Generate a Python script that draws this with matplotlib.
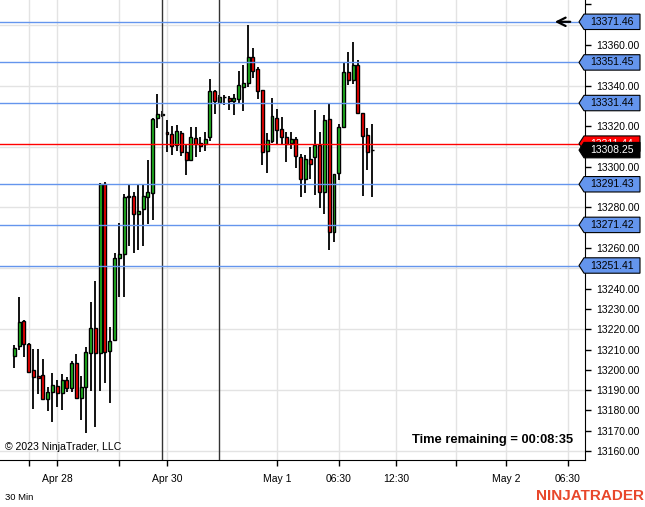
import matplotlib
matplotlib.use("Agg")
import numpy as np
from matplotlib import pyplot as plt
from matplotlib import transforms
from matplotlib.patches import Polygon

plt.rcParams['font.family'] = ['Liberation Sans', 'DejaVu Sans']

# 30 min bars, Apr 27 .. May 1
opens = [
    13207.0, 13211.75, 13224.0, 13212.5, 13199.75, 13196.75, 13197.5, 13185.5, 13189.25, 13192.0,
    13188.5, 13195.0, 13191.0, 13203.5, 13186.0, 13191.5, 13208.5, 13220.5, 13208.5, 13291.5,
    13209.5, 13214.5, 13255.0, 13257.0, 13285.0, 13285.75, 13277.0, 13279.0, 13285.25, 13287.0,
    13324.0, 13325.75, 13317.0, 13316.0, 13311.0, 13316.75, 13307.25, 13303.5, 13314.0, 13311.75,
    13311.25, 13314.5, 13337.25, 13332.0, 13334.25, 13333.75, 13332.5, 13333.5, 13339.5, 13341.5,
    13354.0, 13348.25, 13337.75, 13308.0, 13312.75, 13324.0, 13318.5, 13314.5, 13312.0, 13313.75,
    13305.0, 13294.25, 13303.75, 13304.75, 13310.75, 13287.5, 13323.5, 13267.75, 13296.75, 13319.5,
    13346.5, 13343.0, 13350.25, 13326.75, 13315.75, 13308.25]
highs = [
    13212.25, 13236.0, 13224.5, 13213.0, 13210.25, 13210.25, 13205.25, 13191.75, 13198.25, 13195.0,
    13198.0, 13196.25, 13204.25, 13208.0, 13197.0, 13211.5, 13233.5, 13243.75, 13292.0, 13292.5,
    13221.25, 13257.5, 13272.25, 13286.5, 13291.0, 13287.75, 13291.0, 13291.0, 13303.25, 13324.0,
    13336.0, 13327.5, 13323.0, 13320.0, 13320.75, 13317.75, 13310.75, 13319.75, 13319.75, 13314.75,
    13317.0, 13343.5, 13337.75, 13335.5, 13335.5, 13335.0, 13335.75, 13347.25, 13350.25, 13369.75,
    13358.5, 13349.0, 13337.75, 13316.5, 13334.0, 13328.75, 13324.75, 13317.25, 13317.0, 13314.75,
    13306.25, 13305.75, 13310.0, 13328.25, 13317.25, 13325.5, 13331.5, 13296.5, 13321.0, 13351.0,
    13356.75, 13361.5, 13352.5, 13326.75, 13319.0, 13321.0]
lows = [
    13201.0, 13210.0, 13206.25, 13198.25, 13180.5, 13188.0, 13185.0, 13179.75, 13174.5, 13181.75,
    13180.25, 13189.0, 13189.0, 13185.5, 13175.5, 13169.0, 13189.75, 13172.0, 13189.75, 13193.75,
    13183.5, 13214.25, 13235.75, 13235.75, 13261.0, 13257.5, 13259.0, 13261.0, 13271.75, 13273.75,
    13319.0, 13324.5, 13307.25, 13305.75, 13307.75, 13305.25, 13296.0, 13302.75, 13305.0, 13307.25,
    13308.0, 13312.5, 13326.0, 13331.0, 13330.5, 13328.25, 13325.5, 13330.75, 13327.5, 13339.5,
    13344.0, 13333.5, 13301.0, 13297.0, 13311.75, 13311.5, 13311.25, 13302.5, 13309.0, 13299.5,
    13285.25, 13287.25, 13294.0, 13286.0, 13279.5, 13277.0, 13259.0, 13263.0, 13293.75, 13319.5,
    13340.25, 13340.75, 13326.75, 13285.75, 13298.5, 13285.25]
closes = [
    13211.0, 13223.5, 13212.5, 13199.0, 13196.25, 13196.0, 13185.5, 13189.0, 13192.5, 13188.5,
    13195.0, 13191.0, 13203.25, 13186.0, 13191.5, 13209.0, 13220.5, 13208.5, 13291.5, 13209.0,
    13214.25, 13255.0, 13257.0, 13285.0, 13285.75, 13276.75, 13278.25, 13285.5, 13287.75, 13323.75,
    13326.25, 13326.25, 13316.0, 13310.5, 13317.5, 13307.5, 13303.5, 13314.5, 13311.25, 13310.5,
    13313.75, 13337.25, 13332.5, 13334.25, 13334.5, 13332.5, 13333.75, 13340.25, 13341.5, 13354.0,
    13347.25, 13337.5, 13307.5, 13313.25, 13325.0, 13318.25, 13314.75, 13311.25, 13313.75, 13305.25,
    13294.25, 13303.75, 13301.25, 13310.75, 13287.75, 13323.0, 13267.75, 13296.5, 13319.5, 13346.5,
    13343.0, 13350.25, 13326.75, 13315.25, 13307.5, 13308.25]

blue_levels = [13371.46, 13351.45, 13331.44, 13291.43, 13271.42, 13251.41]
red_level = 13311.44
last_price = 13308.25

xtick_pos = [3, 9, 22, 32, 55, 68, 80, 92.5, 103, 116]
xtick_lab = ['', 'Apr 28', '', 'Apr 30', 'May 1', '06:30', '12:30', '', 'May 2', '06:30']
vlines_at = [31, 43]

fig = plt.figure(figsize=(6.45, 5.07), dpi=100)
ax = fig.add_axes([0, 47 / 507, 585 / 645, 460 / 507])

ax.set_xlim(-3.0, 119.6)
ax.set_ylim(13155.6, 13382.2)

# grid
for p in np.arange(13160, 13390, 30):
    ax.axhline(p, color='#e3e3e3', lw=1, zorder=0)
for p in xtick_pos:
    ax.axvline(p, color='#e3e3e3', lw=1, zorder=0)

# candles
o = np.array(opens)
h = np.array(highs)
l = np.array(lows)
c = np.array(closes)
x = np.arange(len(o))
ax.vlines(x, l, h, color='black', lw=1.3, zorder=2)
cols = np.where(c > o, '#22c022', np.where(c < o, '#ff0000', 'black'))
ax.bar(x, np.abs(c - o), bottom=np.minimum(o, c), width=0.62, color=cols,
       edgecolor='black', linewidth=1.0, zorder=3)

for v in vlines_at:
    ax.axvline(v, color='#333333', lw=1, zorder=4)

for lv in blue_levels:
    ax.axhline(lv, color='#6495ed', lw=1, zorder=4)
ax.axhline(red_level, color='#ff0000', lw=1, zorder=4)

# price markers on the axis
bt = transforms.blended_transform_factory(ax.transAxes, ax.transData)


def price_box(price, face, tcolor, z):
    hh = 3.8
    pts = [(579 / 585, price), (584 / 585, price + hh), (640 / 585, price + hh),
           (640 / 585, price - hh), (584 / 585, price - hh)]
    ax.add_patch(Polygon(pts, closed=True, transform=bt, facecolor=face,
                         edgecolor='black', lw=0.8, clip_on=False, zorder=z))
    ax.text(612 / 585, price, '%.2f' % price, transform=bt, ha='center',
            va='center', fontsize=7.5, color=tcolor, clip_on=False, zorder=z + 0.1)


for lv in blue_levels:
    price_box(lv, '#6495ed', 'black', 10)
price_box(red_level, '#ff0000', 'white', 11)
price_box(last_price, 'black', 'white', 12)

ax.annotate('', xy=(552 / 585, blue_levels[0]), xytext=(573 / 585, blue_levels[0]),
            xycoords=bt, textcoords=bt,
            arrowprops=dict(arrowstyle='->', lw=1.6, color='black', mutation_scale=15),
            zorder=6)

# axes
for s in ['top', 'left']:
    ax.spines[s].set_visible(False)
ax.spines['right'].set_color('black')
ax.spines['bottom'].set_color('black')
ax.yaxis.tick_right()
yt = np.arange(13160, 13390, 10)
covered = blue_levels + [red_level, last_price]
ylabs = []
for t in yt:
    hidden = t >= 13380 or any(abs(t - lv) < 4 for lv in covered)
    ylabs.append('' if hidden else '%.2f' % t)
ax.set_yticks(yt)
ax.set_yticklabels(ylabs)
ax.tick_params(axis='y', direction='out', length=4, width=1, pad=4,
               labelsize=7.5, colors='black')
ax.set_xticks(xtick_pos)
ax.set_xticklabels(xtick_lab)
ax.tick_params(axis='x', direction='out', length=4, width=1, pad=6,
               labelsize=7.5, colors='black')

ax.text(0.009, 0.028, '\u00a9 2023 NinjaTrader, LLC', transform=ax.transAxes,
        fontsize=7.6, ha='left', va='center', zorder=7)
ax.text(0.98, 0.043, 'Time remaining = 00:08:35', transform=ax.transAxes,
        fontsize=9.3, fontweight='bold', ha='right', va='center', zorder=7)

fig.text(5 / 645, 1 - 498 / 507, '30 Min', fontsize=6.8, ha='left', va='center')
fig.text(644 / 645, 1 - 496 / 507, 'NINJATRADER', fontsize=11, fontweight='bold',
         color='#e8472b', ha='right', va='center')

fig.savefig('out.png', dpi=100)
